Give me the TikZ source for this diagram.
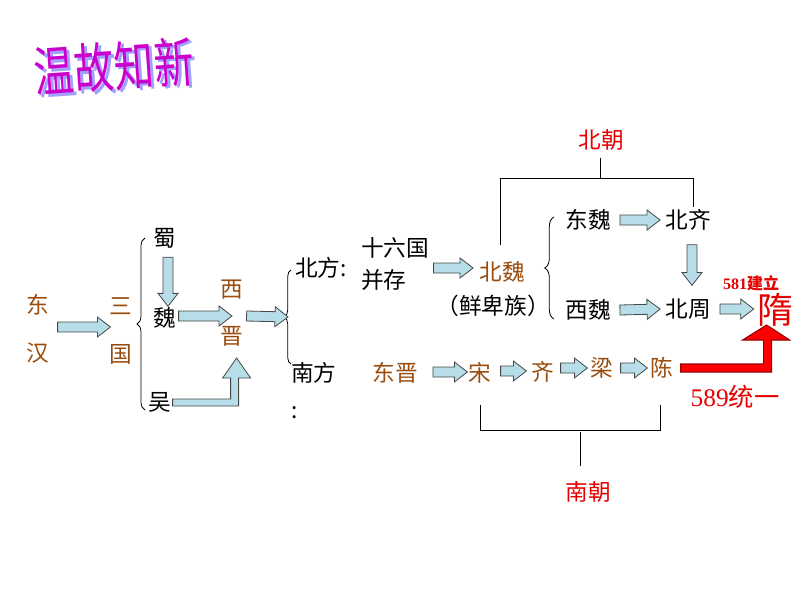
\documentclass[tikz,border=0pt]{standalone}
\usepackage{fontspec}
\newfontfamily\cjk{Noto Sans CJK SC}
\newfontfamily\numf{Liberation Serif}
\usetikzlibrary{calc,decorations.pathreplacing}
\definecolor{brn}{RGB}{153,76,13}
\definecolor{hred}{RGB}{230,0,0}
\definecolor{afill}{RGB}{183,222,232}
\definecolor{aline}{RGB}{70,70,70}
\definecolor{ttl}{RGB}{204,0,204}
\definecolor{ttlsh}{RGB}{160,160,255}
\definecolor{rdark}{RGB}{150,0,0}
\tikzset{
  txt/.style={font=\cjk\fontsize{17}{20}\selectfont, inner sep=0pt, text=black},
  brtxt/.style={txt, text=brn},
  rdtxt/.style={txt, text=hred},
  blkline/.style={draw=aline, fill=afill, line width=0.6pt, line join=miter},
  redblk/.style={draw=rdark, fill=red, line width=0.8pt},
  lnk/.style={draw=black, line width=0.6pt},
  brc/.style={draw=black, line width=0.6pt, decorate, decoration={brace, amplitude=#1}},
  brc/.default=6pt
}
% block arrow: #1 start anchor, #2 offset, #3 end anchor, #4 offset
\newcommand\blk[4]{%
  \path ($(#1)+(#2)$) coordinate (bs) ($(#3)+(#4)$) coordinate (be);
  \path ($(be)!9.75pt!(bs)$) coordinate (bh);
  \draw[blkline] ($(bs)!3.75pt!90:(be)$) -- ($(bh)!3.75pt!90:(be)$) -- ($(bh)!7.5pt!90:(be)$) -- (be)
     -- ($(bh)!7.5pt!-90:(be)$) -- ($(bh)!3.75pt!-90:(be)$) -- ($(bs)!3.75pt!-90:(be)$) -- cycle;}
\newcommand\ttltext{温故知新}
\begin{document}
\begin{tikzpicture}[x=0.75pt,y=-0.75pt]
\useasboundingbox (0,0) rectangle (800,600);
% title (with its shadow in the same text)
\node[font=\cjk\fontsize{30}{30}\selectfont, text=ttl, rotate=4, yscale=1.35, inner sep=0pt] (title) at (114,68)
  {\makebox[0pt][l]{\hspace{2.2pt}\raisebox{-1.6pt}{\color{ttlsh}\ttltext}}\ttltext};
% nodes
\node[brtxt, align=center, font=\cjk\fontsize{17}{36}\selectfont] (dh) at (38,329) {东\\汉};
\node[brtxt, align=center, font=\cjk\fontsize{17}{36}\selectfont] (sg) at (121,331) {三\\国};
\node[txt] (shu) at (165,238) {蜀};
\node[txt] (wei) at (165,318) {魏};
\node[txt] (wu) at (160,402) {吴};
\node[brtxt, align=center, font=\cjk\fontsize{17}{35}\selectfont] (xj) at (232,313) {西\\晋};
\node[txt, anchor=west] (bf) at (295,268) {北方:};
\node[txt, anchor=north west, align=left, font=\cjk\fontsize{17}{28}\selectfont] (nf) at (291,362) {南方\\:};
\node[txt, anchor=west, align=left, font=\cjk\fontsize{17}{24}\selectfont] (slg) at (361,264) {十六国\\并存};
\node[brtxt] (bw) at (502,272) {北魏};
\node[txt] (xbz) at (493,306) {（鲜卑族）};
\node[txt] (dw) at (588,220) {东魏};
\node[txt] (xw) at (588,310) {西魏};
\node[txt] (bq) at (688,220) {北齐};
\node[txt] (bz) at (688,309) {北周};
\node[rdtxt, font=\cjk\fontsize{27}{30}\selectfont] (sui) at (775,310) {隋};
\node[rdtxt, font=\cjk\bfseries\fontsize{12}{14}\selectfont] (y581) at (751,283) {{\numf\bfseries 581}建立};
\node[rdtxt, font=\cjk\fontsize{19}{22}\selectfont] (y589) at (735,397) {{\numf 589}统一};
\node[brtxt] (dj) at (395,373) {东晋};
\node[brtxt] (song) at (480,373) {宋};
\node[brtxt] (qi) at (543,372) {齐};
\node[brtxt] (liang) at (602,368) {梁};
\node[brtxt] (chen) at (662,368) {陈};
\node[rdtxt] (bc) at (601,140) {北朝};
\node[rdtxt] (nc) at (588,492) {南朝};
% braces
\coordinate (b1t) at (145,238);
\coordinate (b1b) at (145,410);
\draw[brc=6pt] (b1b) -- (b1t);
\coordinate (b2t) at (291,270);
\coordinate (b2b) at (291,364);
\draw[brc=5pt] (b2b) -- (b2t);
\coordinate (b3t) at (554,217);
\coordinate (b3b) at (554,319);
\draw[brc=7pt] (b3b) -- (b3t);
% block arrows
\blk{dh.east}{8,-2}{sg.west}{1,-4}
\blk{shu.south}{3,9}{wei.north}{3,-1}
\blk{wei.east}{2,-2}{xj.center}{0,3}
\blk{xj.east}{3,3}{$(b2t)!0.5!(b2b)$}{-3,0}
\blk{slg.east}{4,4}{bw.west}{-6,-4}
\blk{dw.east}{9,0}{bq.west}{-5,0}
\blk{bq.south}{4,14}{bz.north}{4,-13}
\blk{xw.east}{9,0}{bz.west}{-5,0}
\blk{bz.east}{9,0}{sui.west}{-3,-1}
\blk{dj.east}{15,-1}{song.west}{-1,-1}
\blk{song.east}{9,-2}{qi.west}{-5,-1}
\blk{qi.east}{6,-4}{liang.west}{-3,0}
\blk{liang.east}{7,0}{chen.west}{-3,0}
% elbow arrow wu -> xj
\draw[blkline] ($(wu.east)+(1,-3)$) -- ++(58,0) -- ++(0,-21) -- ++(-8,0) -- ++(14,-20) -- ++(14,20) -- ++(-12,0) -- ++(0,28) -- ++(-66,0) -- cycle;
% red arrow chen -> sui
\draw[redblk] ($(chen.east)+(7,-4)$) -- ++(83,0) -- ++(0,-24) -- ++(-21,0) -- ++(24,-15) -- ++(23,15) -- ++(-18,0) -- ++(0,32) -- ++(-91,0) -- cycle;
% brackets
\draw[lnk] ($(bw.north)+(-2,-16)$) -- ++(0,-67) -| ($(bq.north)+(5,-2)$);
\draw[lnk] ($(bc.south)+(-1,7)$) -- ++(0,20);
\draw[lnk] ($(song.south)+(0,21)$) -- ++(0,26) -| ($(chen.south)+(-2,26)$);
\draw[lnk] ($(nc.north)+(-8,-15)$) -- ++(0,-34);
\end{tikzpicture}
\end{document}
